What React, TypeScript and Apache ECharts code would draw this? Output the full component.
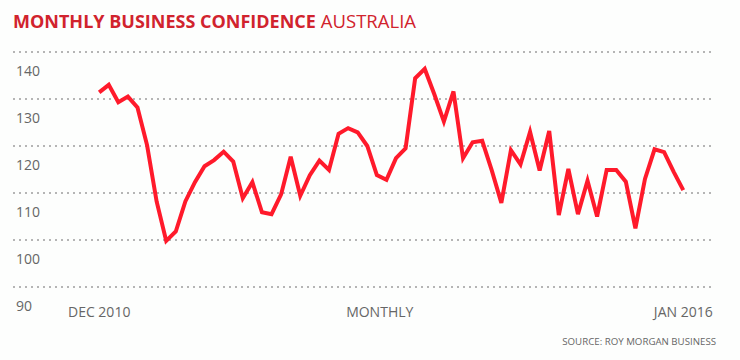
import React, { useEffect, useRef } from "react";
import * as echarts from "echarts";

const MONTHS: string[] = (() => {
  const names = ["JAN", "FEB", "MAR", "APR", "MAY", "JUN", "JUL", "AUG", "SEP", "OCT", "NOV", "DEC"];
  const out: string[] = ["DEC 2010"];
  for (let y = 2011; y <= 2015; y++) for (const n of names) out.push(`${n} ${y}`);
  out.push("JAN 2016");
  return out;
})();

const CONFIDENCE: number[] = [
  131.4, 133.0, 129.3, 130.5, 128.2, 120.2, 108.2, 99.8, 101.8, 108.2,
  112.3, 115.7, 117.0, 118.8, 116.7, 108.9, 112.3, 105.9, 105.5, 109.7,
  117.7, 109.4, 113.8, 116.9, 114.9, 122.6, 123.8, 122.9, 120.0, 113.8,
  112.8, 117.4, 119.5, 134.4, 136.4, 131.0, 125.2, 131.6, 117.4, 120.8,
  121.1, 114.8, 107.9, 119.1, 116.1, 123.0, 114.8, 123.2, 105.3, 115.1,
  105.5, 112.6, 105.0, 114.9, 114.9, 112.4, 102.5, 113.0, 119.3, 118.7,
  114.5, 110.6,
];

const Y_TICKS = [90, 100, 110, 120, 130, 140];
const X_LABEL_POS = [0, 29.3, MONTHS.length - 1];
const X_LABELS = [MONTHS[0], "MONTHLY", MONTHS[MONTHS.length - 1]];

const TITLE_BOLD = "MONTHLY BUSINESS CONFIDENCE";
const TITLE_REG = "AUSTRALIA";
const SOURCE = "SOURCE: ROY MORGAN BUSINESS";

const FONT = "'Open Sans', sans-serif";

export default function App() {
  const ref = useRef<HTMLDivElement>(null);
  useEffect(() => {
    if (!ref.current) return;
    const chart = echarts.init(ref.current, undefined, { renderer: "svg" });
    chart.setOption({
      animation: false,
      backgroundColor: "#fdfefd",
      title: {
        left: 13,
        top: 11,
        padding: 0,
        text: `{b|${TITLE_BOLD}} {r|${TITLE_REG}}`,
        textStyle: {
          rich: {
            b: { fontFamily: FONT, fontSize: 18, fontWeight: "bold", color: "#d1232d" },
            r: { fontFamily: FONT, fontSize: 18.5, fontWeight: "normal", color: "#d1232d" },
          },
        },
      },
      grid: { left: 13, right: 28, top: 52, bottom: 73 },
      xAxis: {
        type: "value",
        min: -9,
        max: 64,
        axisLine: { show: false },
        axisTick: { show: false },
        splitLine: { show: false },
        axisLabel: {
          customValues: X_LABEL_POS,
          formatter: (v: number) => {
            const idx = X_LABEL_POS.findIndex((p) => Math.abs(p - v) < 1e-6);
            return idx >= 0 ? X_LABELS[idx] : "";
          },
          margin: 17,
          fontFamily: FONT,
          fontSize: 14,
          color: "#666",
        },
      },
      yAxis: {
        type: "value",
        min: 90,
        max: 140,
        interval: 10,
        axisLine: { show: false },
        axisTick: { show: false },
        splitLine: { show: true, lineStyle: { color: "#b5b5b5", width: 2, type: [2, 4] } },
        axisLabel: {
          inside: true,
          margin: 3,
          verticalAlign: "top",
          padding: [11, 0, 0, 0],
          fontFamily: FONT,
          fontSize: 14,
          color: "#666",
          formatter: (v: number) => (Y_TICKS.includes(v) ? String(v) : ""),
        },
      },
      graphic: [
        {
          type: "text",
          right: 24,
          top: 336,
          style: { text: SOURCE, fontFamily: FONT, fontSize: 9.7, fill: "#666" },
        },
      ],
      series: [
        {
          type: "line",
          data: CONFIDENCE.map((v, i) => [i, v]),
          symbol: "none",
          lineStyle: { color: "#ff1a2b", width: 4, join: "miter" },
        },
      ],
    });
    return () => chart.dispose();
  }, []);
  return <div ref={ref} style={{ position: "absolute", left: 0, top: 0, width: 740, height: 360 }} />;
}
